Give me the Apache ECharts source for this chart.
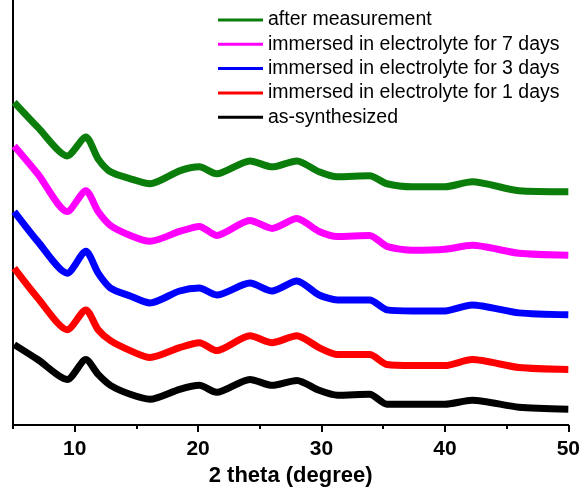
<!DOCTYPE html>
<html>
<head>
<meta charset="utf-8">
<script src="https://cdn.jsdelivr.net/npm/echarts@6/dist/echarts.min.js"></script>
<style>
html,body{margin:0;padding:0;background:#fff;}
#chart{width:583px;height:492px;}
</style>
</head>
<body>
<div id="chart"></div>
<script>
// 2 theta positions (degree)
const twoTheta = [5.1, 7.0, 9.4, 10.9, 11.9, 12.9, 14.5, 16.1, 18.5, 20.1, 21.5, 24.2, 26.0, 28.0, 29.8, 31.3, 33.9, 35.3, 37.4, 40.0, 42.2, 46.0, 50.0];
// intensities (a.u., stacked with offsets as in the figure)
const afterMeasurement = [325, 300, 271, 290, 268, 255, 248, 243, 256, 260, 253, 266, 260, 266, 255, 250, 251, 243, 240, 240, 245, 236, 235];
const immersed7 = [281, 253, 215, 236, 215, 201, 191, 185, 195, 200, 191, 206, 198, 208, 195, 190, 191, 180, 176, 177, 181, 173, 171];
const immersed3 = [215, 185, 153, 175, 153, 138, 130, 123, 135, 138, 131, 143, 135, 145, 131, 126, 126, 116, 115, 115, 121, 113, 111];
const immersed1 = [158, 128, 96, 116, 96, 85, 75, 68, 78, 83, 75, 90, 83, 90, 78, 71, 71, 61, 60, 60, 66, 58, 56];
const asSynthesized = [81, 66, 46, 66, 51, 40, 31, 26, 36, 40, 33, 46, 40, 45, 35, 30, 31, 21, 21, 21, 25, 18, 16];

const seriesNames = ['after measurement', 'immersed in electrolyte for 7 days', 'immersed in electrolyte for 3 days', 'immersed in electrolyte for 1 days', 'as-synthesized'];
const seriesValues = [afterMeasurement, immersed7, immersed3, immersed1, asSynthesized];
const seriesColors = ['#0a7d0a', '#ff00ff', '#0000ff', '#ff0000', '#000000'];
const majorTicks = [10, 20, 30, 40, 50];
const minorTicks = [5, 15, 25, 35, 45];

const FONT = 'Liberation Sans, Arial, sans-serif';
const chart = echarts.init(document.getElementById('chart'), null, {renderer: 'canvas'});
chart.setOption({
  animation: false,
  backgroundColor: '#fff',
  color: seriesColors,
  grid: {left: 13, right: 14, top: 0, bottom: 64, containLabel: false},
  legend: {
    orient: 'vertical',
    left: 218,
    top: 8,
    padding: 0,
    itemWidth: 45,
    itemHeight: 3,
    itemGap: 0.3,
    icon: 'rect',
    textStyle: {fontFamily: FONT, fontSize: 19.5, color: '#000', lineHeight: 24},
    data: seriesNames
  },
  xAxis: [{
    type: 'value', min: 5, max: 50,
    axisLine: {show: true, lineStyle: {color: '#000', width: 2}},
    axisTick: {show: true, customValues: majorTicks, length: 7, lineStyle: {color: '#000', width: 2}},
    axisLabel: {customValues: majorTicks, fontFamily: FONT, fontWeight: 'bold', fontSize: 21, color: '#000', margin: 14},
    splitLine: {show: false},
    name: '2 theta (degree)', nameLocation: 'middle', nameGap: 39,
    nameTextStyle: {fontFamily: FONT, fontWeight: 'bold', fontSize: 22, color: '#000'}
  }, {
    type: 'value', min: 5, max: 50, position: 'bottom',
    axisLine: {show: false},
    axisTick: {show: true, customValues: minorTicks, length: 4, lineStyle: {color: '#000', width: 2}},
    axisLabel: {show: false},
    splitLine: {show: false}
  }],
  yAxis: {
    type: 'value', min: 0, max: 428,
    axisLine: {show: true, lineStyle: {color: '#000', width: 2}},
    axisTick: {show: false},
    axisLabel: {show: false},
    splitLine: {show: false}
  },
  series: seriesNames.map((n, i) => ({
    name: n,
    type: 'line',
    xAxisIndex: 0,
    symbol: 'none',
    smooth: 0.25,
    lineStyle: {width: 7, color: seriesColors[i]},
    data: twoTheta.map((x, j) => [x, seriesValues[i][j]])
  }))
});
</script>
</body>
</html>
